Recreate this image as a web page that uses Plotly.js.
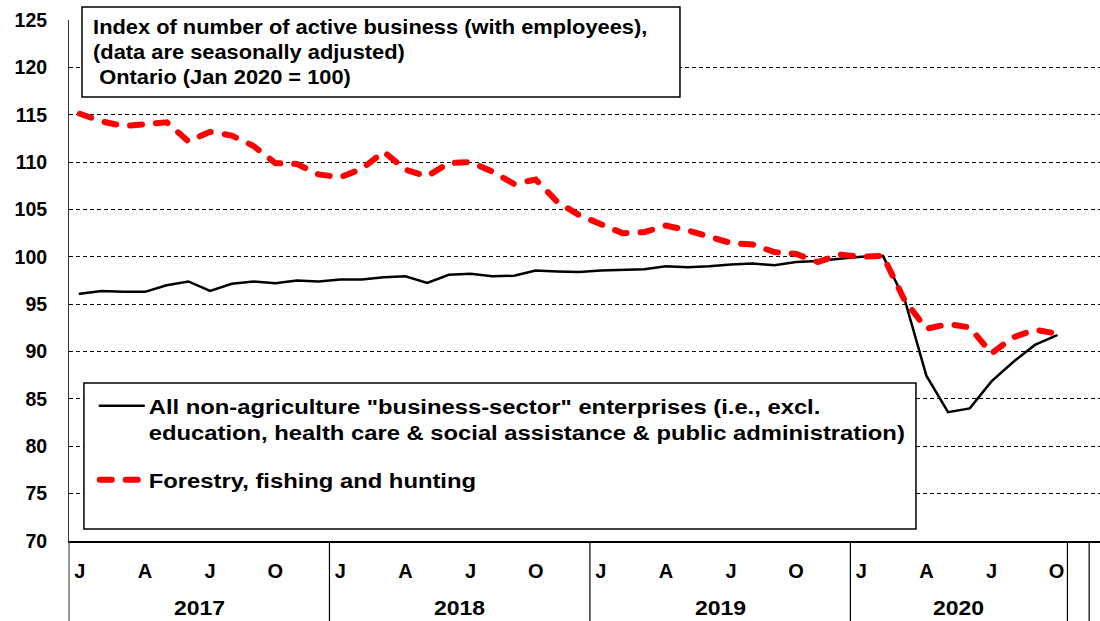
<!DOCTYPE html>
<html><head><meta charset="utf-8">
<script src="https://cdn.plot.ly/plotly-3.0.1.min.js"></script>
<style>
html,body{margin:0;padding:0;background:#fff;}
#chart{width:1100px;height:621px;}
.js-line{stroke-linecap:round;}
.legendtext{transform-box:fill-box;transform-origin:0 50%;transform:scaleX(1.19);}
.annotation-text{transform-box:fill-box;transform-origin:50% 50%;transform:scaleX(1.15);}
.annotation[data-index="4"] .annotation-text{transform-origin:0 50%;transform:scaleX(1.12);}
</style></head><body><div id="chart"></div>
<script>
// Months (Jan 2017 - Oct 2020)
const months = [
 '2017-01','2017-02','2017-03','2017-04','2017-05','2017-06','2017-07','2017-08','2017-09','2017-10','2017-11','2017-12',
 '2018-01','2018-02','2018-03','2018-04','2018-05','2018-06','2018-07','2018-08','2018-09','2018-10','2018-11','2018-12',
 '2019-01','2019-02','2019-03','2019-04','2019-05','2019-06','2019-07','2019-08','2019-09','2019-10','2019-11','2019-12',
 '2020-01','2020-02','2020-03','2020-04','2020-05','2020-06','2020-07','2020-08','2020-09','2020-10'
];
// All non-agriculture business-sector enterprises
const business = [
 96.1, 96.4, 96.3, 96.3, 97.0, 97.4, 96.4, 97.15, 97.4, 97.2, 97.5, 97.4,
 97.6, 97.6, 97.85, 97.95, 97.25, 98.1, 98.2, 97.95, 98.0, 98.55, 98.45, 98.4,
 98.55, 98.6, 98.7, 99.0, 98.9, 99.0, 99.2, 99.3, 99.1, 99.45, 99.55, 99.8,
 100.0, 100.1, 95.5, 87.45, 83.6, 84.0, 86.85, 88.9, 90.7, 91.7
];
// Forestry, fishing and hunting
const forestry = [
 115.1, 114.3, 113.8, 114.0, 114.2, 112.2, 113.2, 112.8, 111.7, 109.9, 109.8, 108.7,
 108.4, 109.3, 111.1, 109.2, 108.5, 109.9, 110.0, 109.0, 107.7, 108.15, 105.8, 104.4,
 103.5, 102.5, 102.6, 103.3, 102.8, 102.1, 101.45, 101.3, 100.5, 100.3, 99.45, 100.25,
 100.0, 100.1, 95.4, 92.4, 92.9, 92.55, 89.8, 91.5, 92.3, 91.9
];
const monthTickVals = months.filter(m => ['01','04','07','10'].includes(m.slice(5)));
const monthLetters = {'01':'J','04':'A','07':'J','10':'O'};
const monthTickText = monthTickVals.map(m => monthLetters[m.slice(5)]);
const years = ['2017','2018','2019','2020'];
const seriesNames = [
 'All non-agriculture "business-sector" enterprises (i.e., excl.<br>education, health care &amp; social assistance &amp; public administration)',
 'Forestry, fishing and hunting'
];
const titleLines = [
 'Index of number of active business (with employees),',
 '(data are seasonally adjusted)',
 '&nbsp;Ontario (Jan 2020 = 100)'
];

const R0 = -0.5, R1 = 47.0;
const px = i => (i - R0) / (R1 - R0);
const F = {family: 'Arial, "Liberation Sans", sans-serif', color: '#000', weight: 'bold'};

const firstIdx = y => months.findIndex(m => m.startsWith(y));
const lastIdx = y => months.length - 1 - [...months].reverse().findIndex(m => m.startsWith(y));

const shapes = [];
const annotations = [];
const bottomY = -0.155;
// left axis extension down
shapes.push({type:'line', xref:'paper', yref:'paper', x0:0, x1:0, y0:0, y1:bottomY, line:{color:'#333', width:1}});
years.forEach((y, k) => {
  const a = firstIdx(y), b = lastIdx(y);
  if (k > 0) shapes.push({type:'line', xref:'paper', yref:'paper', x0:px(a-0.5), x1:px(a-0.5), y0:0, y1:bottomY, line:{color:'#000', width:1.2}});
  annotations.push({xref:'x', yref:'paper', x:(a+b)/2, y:-0.128, yanchor:'middle', xanchor:'center', showarrow:false,
    text:y, font:Object.assign({}, F, {size:20})});
});
const last = months.length - 1;
[last + 0.5, last + 1.5].forEach(v => shapes.push({type:'line', xref:'paper', yref:'paper', x0:px(v), x1:px(v), y0:0, y1:bottomY, line:{color:'#000', width:1.2}}));
// title box
shapes.push({type:'rect', xref:'paper', yref:'paper', x0:0.0126, x1:0.5926, y0:0.852, y1:1.025, fillcolor:'#fff', line:{color:'#000', width:1.5}, layer:'above'});
// legend box
shapes.push({type:'rect', xref:'paper', yref:'paper', x0:0.0145, x1:0.8215, y0:0.023, y1:0.3033, fillcolor:'#fff', line:{color:'#000', width:1.5}, layer:'above'});
annotations.push({xref:'paper', yref:'paper', x:-0.0146, y:1.012, xanchor:'left', yanchor:'top', align:'left', showarrow:false,
  text:titleLines.join('<br>'), font:Object.assign({}, F, {size:19.5})});

const traces = [
 {x: months, y: business, type:'scatter', mode:'lines', name: seriesNames[0], legendgroup:'a',
  line:{color:'#000', width:2.5}},
 {x: months, y: forestry, type:'scatter', mode:'lines', name: seriesNames[1], legendgroup:'b',
  line:{color:'#ff0000', width:6, dash:'12px,14px'}}
];

const layout = {
  width:1100, height:621,
  margin:{l:69, r:0, t:20, b:80, pad:0},
  paper_bgcolor:'#fff', plot_bgcolor:'#fff',
  showlegend:true,
  legend:{x:0.025, y:0.297, xanchor:'left', yanchor:'top', bgcolor:'rgba(0,0,0,0)', borderwidth:0,
    font:Object.assign({}, F, {size:20}), valign:'top', traceorder:'grouped', tracegroupgap:19, itemwidth:44},
  xaxis:{type:'category', categoryarray:months, categoryorder:'array', range:[R0, R1],
    tickvals:monthTickVals, ticktext:monthTickText, tickfont:Object.assign({}, F, {size:20}),
    ticks:'', showgrid:false, zeroline:false, showline:true, linecolor:'#000', linewidth:1.5, ticklabelstandoff:11, fixedrange:true},
  yaxis:{range:[70,125], tick0:70, dtick:5, tickfont:Object.assign({}, F, {size:19.5}), ticks:'',
    showgrid:true, gridcolor:'#000', gridwidth:1, griddash:'4px,3px', zeroline:false,
    showline:true, linecolor:'#333', linewidth:1, ticklabelstandoff:17, fixedrange:true},
  shapes:shapes, annotations:annotations
};
Plotly.newPlot('chart', traces, layout, {displayModeBar:false, staticPlot:true});
</script></body></html>
